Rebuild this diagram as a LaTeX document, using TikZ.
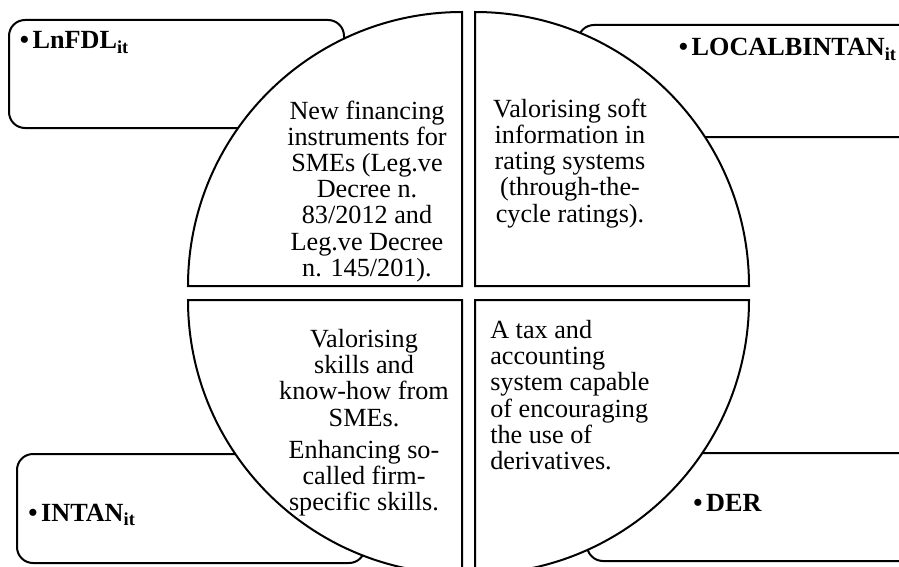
\documentclass[tikz,border=0pt]{standalone}
\usepackage{fontspec}
\setmainfont{Liberation Serif}
\begin{document}
\begin{tikzpicture}[x=0.75pt,y=-0.75pt,
  frame/.style={draw=black, line width=1.5pt, fill=white, rounded corners=12pt},
  quad/.style={draw=black, line width=1.5pt, fill=white, line join=miter},
  body/.style={inner sep=0pt, font=\fontsize{19.65pt}{19.65pt}\selectfont},
  tag/.style={inner sep=0pt, font=\fontsize{19.65pt}{19.65pt}\selectfont\bfseries, anchor=base west}]
\useasboundingbox (0,0) rectangle (899,567);
\clip (0,0) rectangle (899,567);

% corner boxes
\draw[frame] (9,20) rectangle (344,128);
\draw[frame] (578,25) rectangle (940,137);
\draw[frame] (17,454) rectangle (365,563);
\draw[frame] (587,453) rectangle (940,561);

% corner labels
\node[tag] (lnfdl) at (19.5,49) {•\hspace{2.8pt}LnFDL\textsubscript{it}};
\node[tag, anchor=base east] (localb) at (897,56) {•\hspace{2.8pt}LOCALBINTAN\textsubscript{it}};
\node[tag] (intan) at (28,521) {•\hspace{2.8pt}INTAN\textsubscript{it}};
\node[tag] (der) at (693,511) {•\hspace{2.8pt}DER};

% four quarter discs
\draw[quad] (462,286) -- (188,286) arc[start angle=180, end angle=270, radius=274] -- cycle;
\draw[quad] (475,286) -- (475,12) arc[start angle=270, end angle=360, radius=274] -- cycle;
\draw[quad] (475,300) -- (749,300) arc[start angle=0, end angle=90, radius=274] -- cycle;
\draw[quad] (462,300) -- (462,574) arc[start angle=90, end angle=180, radius=274] -- cycle;

% quadrant texts
\node[body, align=center, anchor=north] (q1) at (367,100.4)
  {New financing\\instruments for\\SMEs (Leg.ve\\Decree n.\\83/2012 and\\Leg.ve Decree\\n. 145/201).};
\node[body, align=center, anchor=north] (q2) at (570,98.5)
  {Valorising soft\\information in\\rating systems\\(through-the-\\cycle ratings).};
\node[body, align=center, anchor=north] (q3) at (364,329.1)
  {Valorising\\skills and\\know-how from\\SMEs.\\[4.5pt]Enhancing so-\\called firm-\\specific skills.};
\node[body, align=left, anchor=north west] (q4) at (490,320.1)
  {A tax and\\accounting\\system capable\\of encouraging\\the use of\\derivatives.};
\end{tikzpicture}
\end{document}
